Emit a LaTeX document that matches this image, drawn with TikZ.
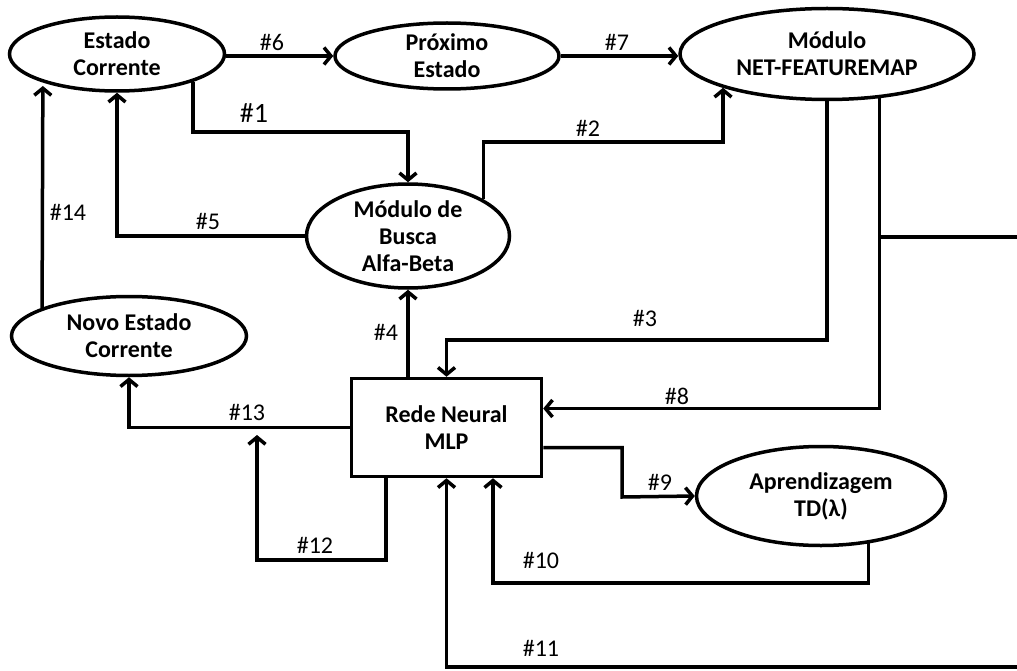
\documentclass[tikz,border=0pt]{standalone}
\usepackage{fontspec}
\setmainfont{Carlito}
\usetikzlibrary{arrows.meta,calc,shapes.geometric}
\begin{document}
\begin{tikzpicture}[x=1pt,y=-1pt,
  wire/.style={line width=3.5pt},
  arr/.style={wire,-{Straight Barb[length=7pt,width=17pt]}},
  state/.style={ellipse,draw,line width=3.5pt,fill=white,inner sep=0pt,align=center,
    font=\bfseries\fontsize{24}{27}\selectfont},
  block/.style={rectangle,draw,line width=3.5pt,fill=white,inner sep=0pt,align=center,
    font=\bfseries\fontsize{24}{27}\selectfont},
  tag/.style={inner sep=0pt,font=\fontsize{24}{26}\selectfont}]
\useasboundingbox (0,0) rectangle (1017,671);

% modules
\node[state,minimum width=215pt,minimum height=74pt] (ec) at (117,54) {Estado\\Corrente};
\node[state,minimum width=224pt,minimum height=66pt] (pe) at (447,56) {Próximo\\Estado};
\node[state,minimum width=294pt,minimum height=91pt] (net) at (827,54) {Módulo\\NET-FEATUREMAP};
\node[state,minimum width=203pt,minimum height=104pt] (bs) at (408,236) {Módulo de\\Busca\\Alfa-Beta};
\node[state,minimum width=235pt,minimum height=79pt] (ne) at (129,336) {Novo Estado\\Corrente};
\node[block,minimum width=190pt,minimum height=98pt] (mlp) at (446.5,427.5) {Rede Neural\\MLP};
\node[state,minimum width=249pt,minimum height=99pt] (ap) at (821,496) {Aprendizagem\\TD(λ)};

% bend points and free ends at the right border
\coordinate (j1) at (408,132);
\coordinate (outA) at (1017,237);
\coordinate (outB) at (1017,667);

% connectors
\draw[arr] (ec.east |- pe.west) -- (pe.west);
\draw[arr] (pe.east) -- (pe.east -| net.west);
\draw[arr] (ec.-20) |- (j1) -- (bs.north);
\draw[arr] (bs.26) |- (600,142) -| (net.-162);
\draw[arr] (bs.west) -| (ec.south);
\draw[arr] (ne.162) -- (ec.-159 |- 0,86);
\draw[arr] (bs.south |- mlp.north) -- (bs.south);
\draw[arr] (net.south) |- (600,340) -| (mlp.north);
\draw[arr] (net.-40) |- ($(mlp.east)+(0,-19)$);
\draw[wire] (net.-40 |- outA) -- (outA);
\draw[arr] ($(mlp.east)+(0,20)$) -| (622,497) -- (ap.west);
\draw[arr] (ap.-45) |- (700,583) -| (mlp.south -| 493,0);
\draw[arr] (outB) -| (mlp.south);
\draw[arr] (mlp.south -| 386,0) |- (300,560) -| (257,435);
\draw[arr] (mlp.west) -| (ne.south);

% connector labels
\node[tag] (t6) at (272,42) {\#6};
\node[tag] (t7) at (617,42) {\#7};
\node[tag,font=\fontsize{28}{30}\selectfont] (t1) at (254,113) {\#1};
\node[tag] (t2) at (588,128) {\#2};
\node[tag] (t5) at (208,221) {\#5};
\node[tag] (t14) at (68,212) {\#14};
\node[tag] (t4) at (386,332) {\#4};
\node[tag] (t3) at (645,318) {\#3};
\node[tag] (t8) at (677,396) {\#8};
\node[tag] (t13) at (247,412) {\#13};
\node[tag] (t12) at (315,545) {\#12};
\node[tag] (t9) at (660,482) {\#9};
\node[tag] (t10) at (541,560) {\#10};
\node[tag] (t11) at (541,648) {\#11};
\end{tikzpicture}
\end{document}
